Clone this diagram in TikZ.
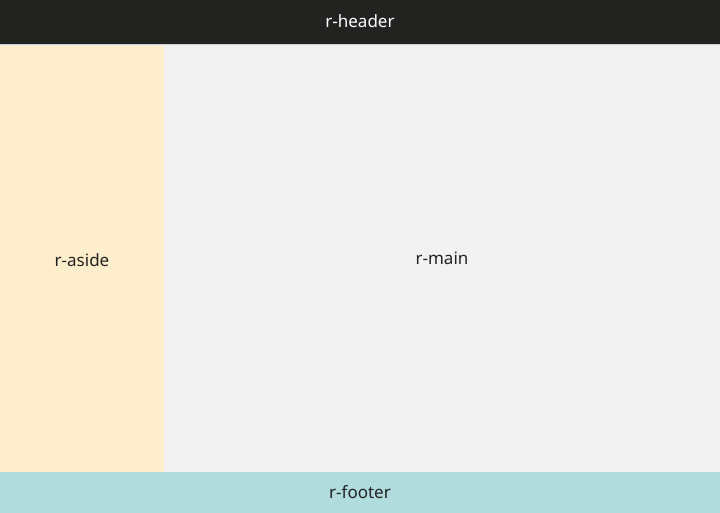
\documentclass[tikz,border=0pt]{standalone}
\usepackage{fontspec}
\setmainfont{Noto Sans}
\definecolor{hdr}{RGB}{34,34,32}
\definecolor{asd}{RGB}{255,238,204}
\definecolor{mn}{RGB}{242,242,242}
\definecolor{ftr}{RGB}{176,220,221}
\definecolor{txt}{RGB}{34,34,34}
\tikzset{region/.style={draw=none,inner sep=0pt,outer sep=0pt},
  lbl/.style={font=\fontsize{17}{19}\selectfont,text=txt,inner sep=0pt}}
\begin{document}
\begin{tikzpicture}[x=1pt,y=-1pt]
\useasboundingbox (0,0) rectangle (720,513);
\fill[mn] (0,44) rectangle (720,472);
\fill[asd] (0,44) rectangle (164,472);
\fill[gray!35] (0,44) rectangle (720,45);
\fill[gray!15] (0,45) rectangle (720,46.5);
\fill[hdr] (0,0) rectangle (720,44);
\fill[ftr] (0,472) rectangle (720,513);
\node[lbl,text=white] (header) at (360,21) {r-header};
\node[lbl] (aside) at (82,260) {r-aside};
\node[lbl] (main) at (442,258) {r-main};
\node[lbl] (footer) at (360,492) {r-footer};
\end{tikzpicture}
\end{document}
